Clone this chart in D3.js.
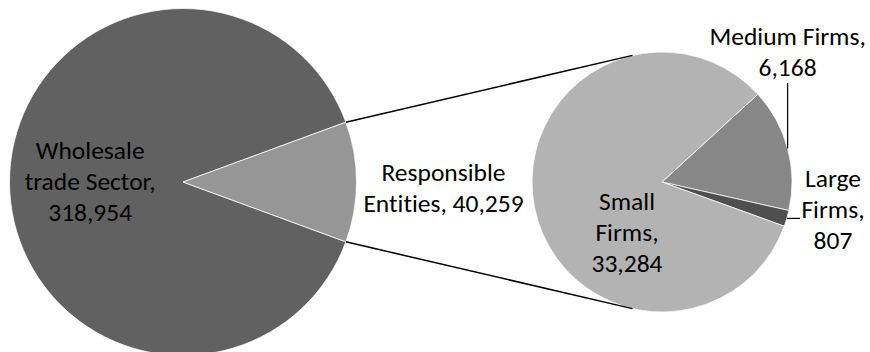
<!DOCTYPE html>
<html>
<head>
<meta charset="utf-8">
<script src="https://cdn.jsdelivr.net/npm/d3@7"></script>
<style>
  body { margin: 0; background: #fff; }
  text { font-family: Calibri, Carlito, Lato, sans-serif; font-size: 25.5px; fill: #000; font-variant-ligatures: none; }
</style>
</head>
<body>
<div id="chart"></div>
<script>
// main pie
const mainCategories = ["Wholesale trade Sector", "Responsible Entities"];
const mainValues = [318954, 40259];
const mainLabelLines = [["Wholesale", "trade Sector,"], ["Responsible", "Entities,"]];
const mainValueInline = [false, true];
// secondary pie (split of Responsible Entities)
const subCategories = ["Medium Firms", "Large Firms", "Small Firms"];
const subValues = [6168, 807, 33284];
const subLabelLines = [["Medium Firms,"], ["Large", "Firms,"], ["Small", "Firms,"]];

const width = 870, height = 352;
const fmt = d3.format(",");
const lineH = 31;

const main = { cx: 183, cy: 182, r: 173.5 };
const sub = { cx: 662, cy: 182, r: 130 };

const mainColors = ["#616161", "#969696"];
const subColors = ["#878787", "#4f4f4f", "#b3b3b3"];

const svg = d3.select("#chart").append("svg")
  .attr("width", width)
  .attr("height", height);

function labelText(lines, value, inline) {
  if (inline) {
    const out = lines.slice(0, -1);
    out.push(lines[lines.length - 1] + " " + fmt(value));
    return out;
  }
  return lines.concat(fmt(value));
}

// responsible slice centred on the right side
const respShare = mainValues[1] / d3.sum(mainValues) * 2 * Math.PI;
const mainData = mainValues.map((v, i) => ({ name: mainCategories[i], value: v, i }));
const mainPie = d3.pie().sort(null).value(d => d.value)
  .startAngle(Math.PI / 2 + respShare / 2)
  .endAngle(Math.PI / 2 + respShare / 2 + 2 * Math.PI);
const mainArcs = mainPie(mainData);

const mainArc = d3.arc().innerRadius(0).outerRadius(main.r);

const gMain = svg.append("g").attr("transform", `translate(${main.cx},${main.cy})`);
gMain.selectAll("path")
  .data(mainArcs)
  .enter()
  .append("path")
  .attr("d", mainArc)
  .attr("fill", d => mainColors[d.data.i])
  .attr("stroke", "#fff")
  .attr("stroke-width", 0.75);

// secondary pie, first slice starts 42.5deg above horizontal
const subData = subValues.map((v, i) => ({ name: subCategories[i], value: v, i }));
const subStart = (90 - 42.5) * Math.PI / 180;
const subPie = d3.pie().sort(null).value(d => d.value)
  .startAngle(subStart).endAngle(subStart + 2 * Math.PI);
const subArcs = subPie(subData);
const subArc = d3.arc().innerRadius(0).outerRadius(sub.r);

const gSub = svg.append("g").attr("transform", `translate(${sub.cx},${sub.cy})`);
gSub.selectAll("path")
  .data(subArcs)
  .enter()
  .append("path")
  .attr("d", subArc)
  .attr("fill", d => subColors[d.data.i])
  .attr("stroke", "#fff")
  .attr("stroke-width", 0.75);

// connector lines: slice edge -> tangent of second pie
function polar(c, r, a) {
  return [c.cx + r * Math.sin(a), c.cy - r * Math.cos(a)];
}
function tangent(p, c, upper) {
  const dx = p[0] - c.cx, dy = p[1] - c.cy;
  const d = Math.hypot(dx, dy);
  const th = Math.atan2(dy, dx);
  const al = Math.acos(c.r / d);
  const t1 = [c.cx + c.r * Math.cos(th + al), c.cy + c.r * Math.sin(th + al)];
  const t2 = [c.cx + c.r * Math.cos(th - al), c.cy + c.r * Math.sin(th - al)];
  return upper ? (t1[1] < t2[1] ? t1 : t2) : (t1[1] > t2[1] ? t1 : t2);
}
const resp = mainArcs[1];
const pTop = polar(main, main.r, resp.startAngle + 2 * Math.PI);
const pBot = polar(main, main.r, resp.endAngle);
const tops = [pTop, tangent(pTop, sub, true)];
const bots = [pBot, tangent(pBot, sub, false)];
const line = d3.line();
svg.selectAll("path.conn")
  .data([tops, bots])
  .enter()
  .append("path")
  .attr("class", "conn")
  .attr("d", line)
  .attr("fill", "none")
  .attr("stroke", "#000")
  .attr("stroke-width", 1.5);

function drawLabel(x, y, lines) {
  const t = svg.append("text")
    .attr("text-anchor", "middle")
    .attr("dominant-baseline", "central");
  lines.forEach((s, k) => {
    t.append("tspan")
      .attr("x", x)
      .attr("y", y + (k - (lines.length - 1) / 2) * lineH)
      .text(s);
  });
}

// main labels
const wMid = (mainArcs[0].startAngle + mainArcs[0].endAngle) / 2;
const wPos = polar(main, main.r * 0.535, wMid);
drawLabel(wPos[0], wPos[1] - 1, labelText(mainLabelLines[0], mainValues[0], mainValueInline[0]));

drawLabel(main.cx + main.r + 87, main.cy + 5, labelText(mainLabelLines[1], mainValues[1], mainValueInline[1]));

// small firms label, inside slice
drawLabel(sub.cx - 35, sub.cy + 50, labelText(subLabelLines[2], subValues[2], false));

// medium firms label with vertical leader
const mMid = (subArcs[0].startAngle + subArcs[0].endAngle) / 2;
const mEdge = polar(sub, sub.r, mMid);
svg.append("path")
  .attr("d", line([mEdge, [mEdge[0], 83]]))
  .attr("stroke", "#000").attr("stroke-width", 1.2).attr("fill", "none");
drawLabel(mEdge[0], 51, labelText(subLabelLines[0], subValues[0], false));

// large firms label with short horizontal leader
const lMid = (subArcs[1].startAngle + subArcs[1].endAngle) / 2;
const lEdge = polar(sub, sub.r, lMid);
svg.append("path")
  .attr("d", line([lEdge, [800, lEdge[1]]]))
  .attr("stroke", "#000").attr("stroke-width", 1.2).attr("fill", "none");
drawLabel(833, 209, labelText(subLabelLines[1], subValues[1], false));
</script>
</body>
</html>
